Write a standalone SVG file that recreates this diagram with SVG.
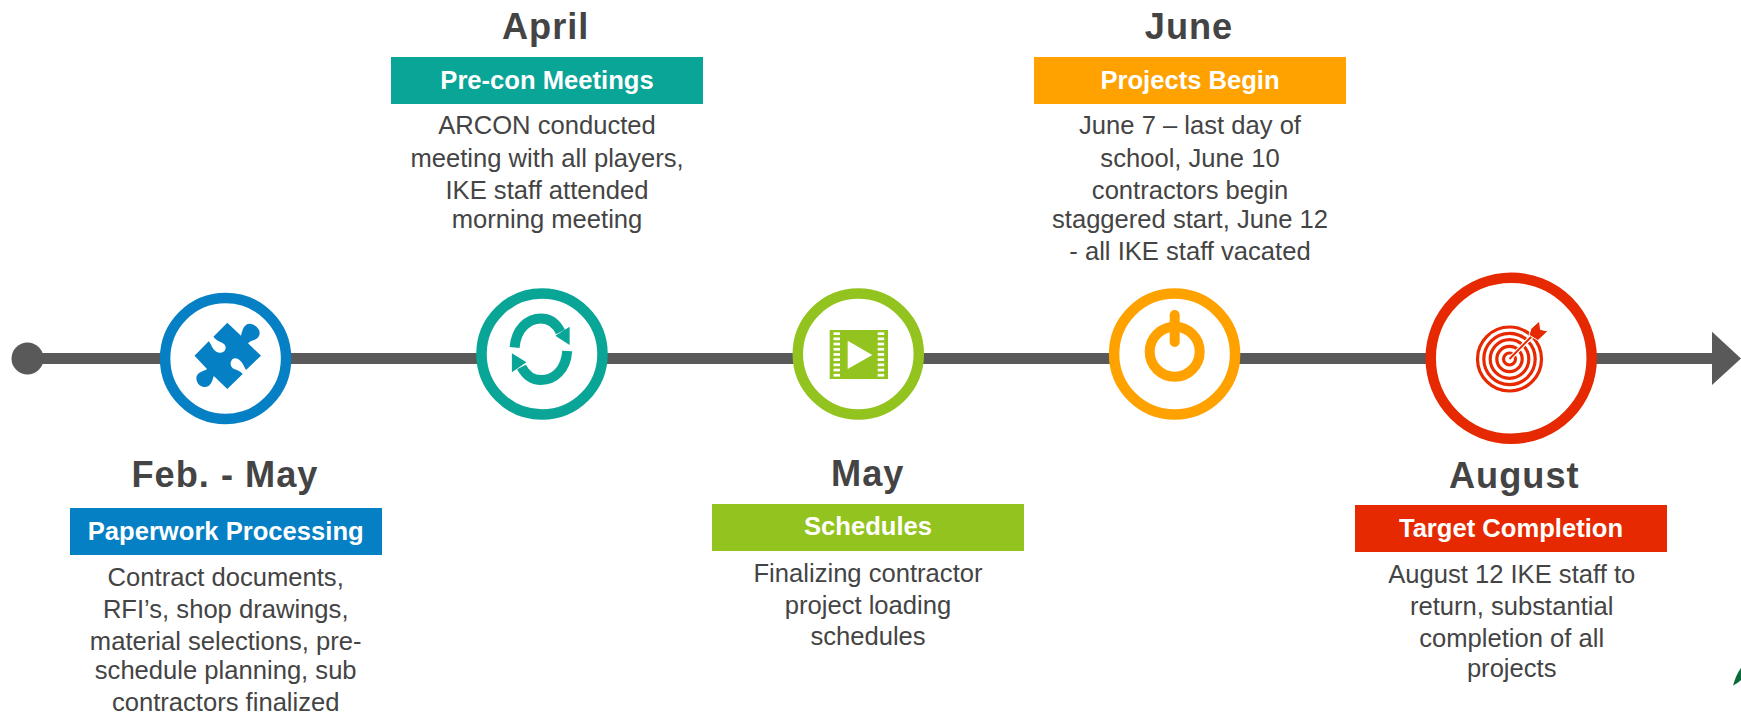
<svg xmlns="http://www.w3.org/2000/svg" width="1741" height="713" viewBox="0 0 1741 713">
<style>
text{font-family:"Liberation Sans",Arial,sans-serif;text-anchor:middle;fill:#444}
.h{font-size:36.2px;font-weight:700;letter-spacing:1px}
.t{font-size:25.6px;font-weight:700;fill:#fff}
.b{font-size:25.6px}
.ring{fill:#fff;stroke-width:10.5}
</style>
<rect width="1741" height="713" fill="#fff"/>
<g id="connectors">
<line x1="27" y1="358.5" x2="1715" y2="358.5" stroke="#595959" stroke-width="11"/>
<circle cx="27.5" cy="358.5" r="16" fill="#595959"/>
<polygon points="1712,331.7 1741,358.5 1712,385" fill="#595959"/>
</g>
<g id="node-feb-may">
<circle class="ring" cx="225.6" cy="358.5" r="60.5" stroke="#0680c5"/>
<path fill="#0680c5" d="M227.3 322.7L241 335.7C242 332 243 327 246 325C250 322 256 325 259 330C261 335 258 339 254 340C251 341 249 342 248 343.3L261 355.7L246 370C244 367 243 363 240 360.5C237 357.5 233 357.5 231.5 360.5C229.5 364 231 367 234 369C237 370 241 371.5 242.7 374L227.3 389L213.8 376C212.5 379 212.5 383 208.5 386C204 388.5 198.5 386 197 381.5C195 376 198 373 202 371.5C204 370.5 206 370 207 369L194.5 355.7L208.7 341.3C210.5 343 211.5 346.5 213.4 349C216 353 221 354 224.5 351C226.5 348 226 345 222.5 343C219 341 215.5 340 213.4 336.7Z"/>
<text class="h" x="225" y="486.7">Feb. - May</text>
<rect x="70" y="508" width="312" height="47" fill="#0680c5"/>
<text class="t" x="225.7" y="539.5">Paperwork Processing</text>
<text class="b" x="225.7" y="585.7">Contract documents,</text>
<text class="b" x="225.7" y="617.7">RFI’s, shop drawings,</text>
<text class="b" x="225.7" y="649.7">material selections, pre-</text>
<text class="b" x="225.7" y="679">schedule planning, sub</text>
<text class="b" x="225.7" y="710.7">contractors finalized</text>
</g>
<g id="node-april">
<circle class="ring" cx="542" cy="354" r="60.5" stroke="#09a597"/>
<path fill="none" stroke="#09a597" stroke-width="10" d="M514.6 347.5C516 329 528 318.5 541 318.5C549 318.5 556 323 560.5 332"/>
<path fill="none" stroke="#09a597" stroke-width="10" d="M567.2 351C566 370 554 380 541 380C533 380 526 375.5 521.5 367"/>
<polygon fill="#09a597" points="569.6,326.7 569.6,345 555.3,335.7"/>
<polygon fill="#09a597" points="511.9,353.3 511.9,372.3 526.5,362.3"/>
<text class="h" x="545.7" y="39">April</text>
<rect x="391" y="57" width="312" height="47" fill="#09a597"/>
<text class="t" x="547" y="88.5">Pre-con Meetings</text>
<text class="b" x="547" y="134.3">ARCON conducted</text>
<text class="b" x="547" y="166.7">meeting with all players,</text>
<text class="b" x="547" y="198.7">IKE staff attended</text>
<text class="b" x="547" y="227.7">morning meeting</text>
</g>
<g id="node-may">
<circle class="ring" cx="858.3" cy="354" r="60.5" stroke="#92c31e"/>
<rect x="829.7" y="330" width="58.3" height="49" fill="#92c31e"/>
<g fill="#fff">
<rect x="833.5" y="332.3" width="6.5" height="2.7"/><rect x="833.5" y="337.5" width="6.5" height="2.7"/><rect x="833.5" y="342.7" width="6.5" height="2.7"/><rect x="833.5" y="347.9" width="6.5" height="2.7"/><rect x="833.5" y="353.1" width="6.5" height="2.7"/><rect x="833.5" y="358.3" width="6.5" height="2.7"/><rect x="833.5" y="363.5" width="6.5" height="2.7"/><rect x="833.5" y="368.7" width="6.5" height="2.7"/><rect x="833.5" y="373.9" width="6.5" height="2.7"/>
<rect x="877.7" y="332.3" width="6.5" height="2.7"/><rect x="877.7" y="337.5" width="6.5" height="2.7"/><rect x="877.7" y="342.7" width="6.5" height="2.7"/><rect x="877.7" y="347.9" width="6.5" height="2.7"/><rect x="877.7" y="353.1" width="6.5" height="2.7"/><rect x="877.7" y="358.3" width="6.5" height="2.7"/><rect x="877.7" y="363.5" width="6.5" height="2.7"/><rect x="877.7" y="368.7" width="6.5" height="2.7"/><rect x="877.7" y="373.9" width="6.5" height="2.7"/>
<polygon points="847.7,340.7 872.3,355 847.7,369"/>
</g>
<text class="h" x="867.7" y="486">May</text>
<rect x="712" y="504" width="312" height="47" fill="#92c31e"/>
<text class="t" x="868" y="535">Schedules</text>
<text class="b" x="868" y="582.3">Finalizing contractor</text>
<text class="b" x="868" y="613.5">project loading</text>
<text class="b" x="868" y="645">schedules</text>
</g>
<g id="node-june">
<circle class="ring" cx="1174.6" cy="354" r="60.5" stroke="#ffa200"/>
<circle cx="1174.7" cy="351.7" r="25" fill="none" stroke="#ffa200" stroke-width="10"/>
<line x1="1174.7" y1="315" x2="1174.7" y2="342" stroke="#ffa200" stroke-width="10" stroke-linecap="round"/>
<text class="h" x="1189" y="39">June</text>
<rect x="1034" y="57" width="312" height="47" fill="#ffa200"/>
<text class="t" x="1190" y="88.5">Projects Begin</text>
<text class="b" x="1190" y="134.3">June 7 – last day of</text>
<text class="b" x="1190" y="166.7">school, June 10</text>
<text class="b" x="1190" y="198.7">contractors begin</text>
<text class="b" x="1190" y="227.7">staggered start, June 12</text>
<text class="b" x="1190" y="260">- all IKE staff vacated</text>
</g>
<g id="node-august">
<circle class="ring" cx="1511.2" cy="358.2" r="80.5" stroke="#e62900"/>
<g fill="none" stroke="#e62900" stroke-width="3.2">
<circle cx="1509.5" cy="359" r="32"/><circle cx="1509.5" cy="359" r="25.7"/><circle cx="1509.5" cy="359" r="19.3"/><circle cx="1509.5" cy="359" r="12.7"/><circle cx="1509.5" cy="359" r="6"/>
</g>
<line x1="1509.5" y1="359" x2="1533" y2="335" stroke="#fff" stroke-width="4.5"/>
<line x1="1509.5" y1="359" x2="1533" y2="335" stroke="#e62900" stroke-width="2"/>
<polygon fill="#e62900" stroke="#fff" stroke-width="1" points="1539.5,321 1540.5,329.5 1548,331 1538,340.5 1529,335 1531,328.5"/>
<text class="h" x="1514.3" y="488.3">August</text>
<rect x="1355" y="505" width="312" height="47" fill="#e62900"/>
<text class="t" x="1511" y="536.7">Target Completion</text>
<text class="b" x="1511.7" y="583.3">August 12 IKE staff to</text>
<text class="b" x="1511.7" y="615">return, substantial</text>
<text class="b" x="1511.7" y="646.7">completion of all</text>
<text class="b" x="1511.7" y="676.7">projects</text>
</g>
<path fill="#0b6b38" d="M1741 668C1737 673 1735 679 1733 685.7C1736 684 1739 682 1741 680Z"/>
</svg>
